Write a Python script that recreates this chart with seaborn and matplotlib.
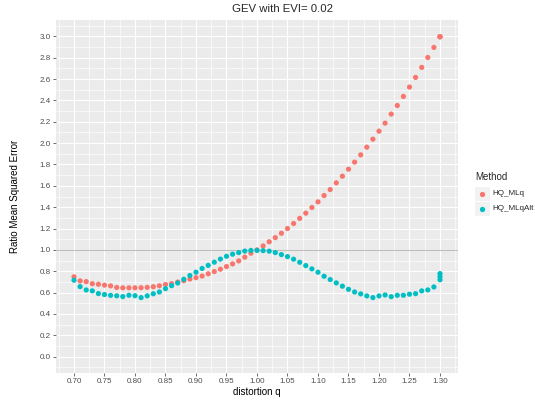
import numpy as np
import pandas as pd
import matplotlib
matplotlib.use("Agg")
import matplotlib.pyplot as plt
from matplotlib.patches import Rectangle
from matplotlib.lines import Line2D
from matplotlib.ticker import MultipleLocator
import seaborn as sns

# distortion q grid (last value repeated: extra runs at q = 1.30)
q = [0.70, 0.71, 0.72, 0.73, 0.74, 0.75, 0.76, 0.77, 0.78, 0.79,
     0.80, 0.81, 0.82, 0.83, 0.84, 0.85, 0.86, 0.87, 0.88, 0.89,
     0.90, 0.91, 0.92, 0.93, 0.94, 0.95, 0.96, 0.97, 0.98, 0.99,
     1.00, 1.01, 1.02, 1.03, 1.04, 1.05, 1.06, 1.07, 1.08, 1.09,
     1.10, 1.11, 1.12, 1.13, 1.14, 1.15, 1.16, 1.17, 1.18, 1.19,
     1.20, 1.21, 1.22, 1.23, 1.24, 1.25, 1.26, 1.27, 1.28, 1.29,
     1.30, 1.30, 1.30]

hq_mlq = [0.748, 0.710, 0.703, 0.683, 0.678, 0.670, 0.663, 0.648, 0.645, 0.645,
          0.645, 0.646, 0.649, 0.655, 0.664, 0.676, 0.684, 0.699, 0.712, 0.727,
          0.740, 0.755, 0.776, 0.797, 0.819, 0.844, 0.869, 0.897, 0.932, 0.969,
          1.000, 1.037, 1.076, 1.115, 1.156, 1.200, 1.247, 1.295, 1.344, 1.397,
          1.450, 1.509, 1.565, 1.628, 1.690, 1.756, 1.822, 1.890, 1.962, 2.037,
          2.112, 2.187, 2.272, 2.352, 2.437, 2.525, 2.615, 2.709, 2.802, 2.896,
          2.996, 2.996, 2.996]

hq_mlqalt = [0.716, 0.656, 0.625, 0.616, 0.591, 0.582, 0.574, 0.570, 0.563, 0.575,
             0.571, 0.553, 0.570, 0.589, 0.606, 0.637, 0.665, 0.690, 0.725, 0.760,
             0.791, 0.826, 0.855, 0.885, 0.914, 0.940, 0.960, 0.975, 0.989, 0.995,
             0.995, 0.993, 0.988, 0.975, 0.956, 0.937, 0.913, 0.884, 0.853, 0.822,
             0.791, 0.753, 0.722, 0.691, 0.660, 0.631, 0.606, 0.588, 0.569, 0.553,
             0.569, 0.578, 0.562, 0.575, 0.575, 0.585, 0.590, 0.616, 0.625, 0.653,
             0.720, 0.750, 0.778]

methods = ["HQ_MLq", "HQ_MLqAlt"]
colors = {"HQ_MLq": "#F8766D", "HQ_MLqAlt": "#00BFC4"}

df = pd.concat([
    pd.DataFrame({"q": q, "ratio": hq_mlq, "Method": "HQ_MLq"}),
    pd.DataFrame({"q": q, "ratio": hq_mlqalt, "Method": "HQ_MLqAlt"}),
])

sns.set_theme(style="darkgrid")
plt.rcParams["font.family"] = ["Liberation Sans", "DejaVu Sans"]

W, H = 535, 405
fig = plt.figure(figsize=(W / 100, H / 100), dpi=100)
fig.patch.set_facecolor("white")


def fx(px):
    return px / W


def fy(py):
    return 1 - py / H


left, right, top, bottom = 55.7, 458.3, 20.3, 372.7
ax = fig.add_axes([fx(left), fy(bottom), fx(right) - fx(left), (bottom - top) / H])
ax.set_facecolor("#EBEBEB")

ax.axhline(1.0, color="#BEBEBE", lw=0.8, zorder=1)
sns.scatterplot(data=df, x="q", y="ratio", hue="Method", palette=colors,
                hue_order=methods, s=14, linewidth=0, ax=ax, legend=False,
                zorder=3)

ax.xaxis.set_major_locator(MultipleLocator(0.05))
ax.xaxis.set_minor_locator(MultipleLocator(0.025))
ax.yaxis.set_major_locator(MultipleLocator(0.2))
ax.yaxis.set_minor_locator(MultipleLocator(0.1))
ax.set_xlim(0.67, 1.33)
ax.set_ylim(-0.15, 3.15)
ax.xaxis.set_major_formatter(lambda v, pos: f"{v:.2f}")
ax.yaxis.set_major_formatter(lambda v, pos: f"{v:.1f}")

ax.grid(which="major", color="white", lw=0.85)
ax.grid(which="minor", color="white", lw=0.45)
ax.set_axisbelow(True)
for s in ax.spines.values():
    s.set_visible(False)
ax.tick_params(which="major", length=2.2, width=0.5, color="#333333",
               labelsize=5.8, labelcolor="#4D4D4D", pad=1.5,
               bottom=True, left=True)
ax.tick_params(which="minor", length=0)

ax.set_xlabel("distortion q", fontsize=7.0, color="black")
ax.set_ylabel("Ratio Mean Squared Error", fontsize=7.0, color="black")
ax.xaxis.set_label_coords(0.5, (bottom - 392) / (bottom - top))
ax.xaxis.label.set_va("center")
ax.yaxis.set_label_coords((15.5 - left) / (right - left), 0.5)
ax.yaxis.label.set_va("center")

fig.text(fx(283), fy(8.5), "GEV with EVI= 0.02", ha="center", va="center",
         fontsize=8.2)

# legend
fig.text(fx(475), fy(177.5), "Method", ha="left", va="center", fontsize=7.0)
for i, m in enumerate(methods):
    cy = 193.5 + 15 * i
    fig.add_artist(Rectangle((fx(474.5), fy(cy + 7)), 15 / W, 14 / H,
                             transform=fig.transFigure, facecolor="#F2F2F2",
                             edgecolor="none"))
    fig.add_artist(Line2D([fx(482)], [fy(cy)], marker="o", markersize=3.8,
                          markeredgewidth=0, color=colors[m],
                          transform=fig.transFigure))
    fig.text(fx(492), fy(cy), m, ha="left", va="center", fontsize=5.8)

fig.savefig("out.png", dpi=100)
